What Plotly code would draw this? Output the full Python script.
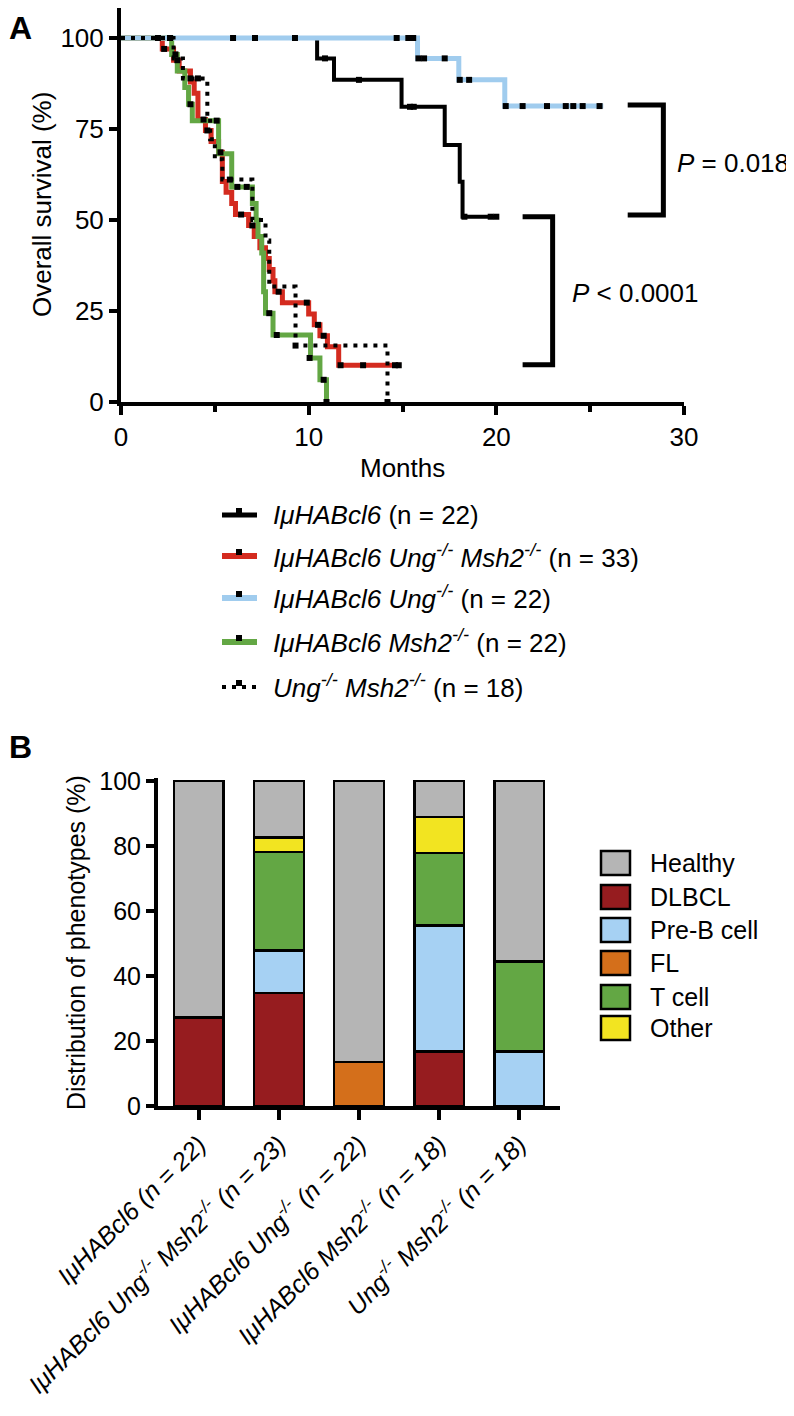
import plotly.graph_objects as go

PAGE_MARGIN = 8  # the browser's default body margin shifts the chart by 8px
W, H = 794 - PAGE_MARGIN, 1416 - PAGE_MARGIN
FONT = "Liberation Sans, Arial, Helvetica, sans-serif"

# ==========================================================
# Panel A data: Kaplan-Meier steps (months, % alive)
# ==========================================================
black_t = [0, 10.45, 11.35, 14.95, 17.25, 18.05, 18.2, 20.1]
black_s = [100, 94.4, 88.5, 81.1, 70.6, 60.5, 50.9, 50.9]
black_cens_t = [1.97, 2.61, 5.97, 7.14, 9.27, 10.87, 12.68, 15.4, 15.6, 18.3, 19.7, 20.0]
black_cens_s = [100, 100, 100, 100, 100, 94.4, 88.5, 81.1, 81.1, 50.9, 50.9, 50.9]

red_t = [0, 2.2, 2.8, 3.1, 3.7, 3.9, 4.1, 4.5, 4.8, 5.2, 5.4, 5.6, 5.9, 6.1,
         6.8, 7.1, 7.4, 7.7, 7.9, 8.1, 8.2, 8.6, 10.0, 10.3, 10.6, 11.0, 11.6, 14.9]
red_s = [100, 97.0, 93.9, 90.9, 87.9, 84.8, 77.6, 74.6, 71.6, 68.6, 60.6, 57.6, 54.5, 51.5,
         48.5, 45.5, 42.4, 39.4, 36.4, 33.3, 30.3, 27.3, 24.2, 21.2, 18.2, 15.2, 10.1, 10.1]
red_cens_t = [2.3, 3.0, 4.4, 4.6, 5.3, 6.4, 7.0, 8.4, 9.9, 10.5, 10.8, 11.7, 12.9, 14.6, 14.8]
red_cens_s = [97.0, 93.9, 77.6, 74.6, 68.6, 51.5, 48.5, 30.3, 27.3, 21.2, 18.2, 10.1, 10.1, 10.1, 10.1]

blue_t = [0, 15.8, 18.0, 20.45, 25.7]
blue_s = [100, 94.4, 88.5, 81.3, 81.3]
blue_cens_t = [14.69, 15.31, 15.57, 15.85, 16.15, 17.25, 18.05, 18.55,
               20.5, 21.4, 22.7, 23.7, 24.1, 24.6, 25.5]
blue_cens_s = [100, 100, 100, 94.4, 94.4, 94.4, 88.5, 88.5,
               81.3, 81.3, 81.3, 81.3, 81.3, 81.3, 81.3]

green_t = [0, 2.7, 3.0, 3.4, 3.6, 3.8, 5.2, 5.9, 7.0, 7.2, 7.3, 7.5, 7.6, 7.7, 8.1, 10.1, 10.6, 10.95]
green_s = [100, 95.5, 90.9, 86.4, 81.8, 77.3, 68.2, 59.1, 54.5, 50.0, 45.5, 40.9, 30.3, 24.4, 18.4, 12.1, 6.1, 0]
green_cens_t = [2.9, 3.7, 5.1, 6.2, 6.7, 7.9, 8.3, 10.05, 10.8, 10.95]
green_cens_s = [95.5, 81.8, 77.3, 59.1, 59.1, 24.4, 18.4, 12.1, 6.1, 0]

dot_t = [0, 2.8, 3.3, 4.6, 4.75, 5.0, 5.4, 7.0, 7.7, 7.9, 9.3, 14.2]
dot_s = [100, 94.4, 88.9, 77.8, 72.2, 66.7, 61.1, 50.0, 44.4, 31.7, 15.5, 0]
dot_cens_t = [3.7, 4.1, 5.8, 9.3, 14.2]
dot_cens_s = [88.9, 88.9, 61.1, 15.5, 0]

legend_a = [
    "<i>IμHABcl6</i> (n = 22)",
    "<i>IμHABcl6 Ung<sup>-/-</sup> Msh2<sup>-/-</sup></i> (n = 33)",
    "<i>IμHABcl6 Ung<sup>-/-</sup></i> (n = 22)",
    "<i>IμHABcl6 Msh2<sup>-/-</sup></i> (n = 22)",
    "<i>Ung<sup>-/-</sup> Msh2<sup>-/-</sup></i> (n = 18)",
]

# ==========================================================
# Panel B data: phenotype distribution (%)
# ==========================================================
groups = [
    "<i>IμHABcl6 (n = 22)</i>",
    "<i>IμHABcl6 Ung<sup>-/-</sup> Msh2<sup>-/-</sup> (n = 23)</i>",
    "<i>IμHABcl6 Ung<sup>-/-</sup> (n = 22)</i>",
    "<i>IμHABcl6 Msh2<sup>-/-</sup> (n = 18)</i>",
    "<i>Ung<sup>-/-</sup> Msh2<sup>-/-</sup> (n = 18)</i>",
]
dlbcl = [27.3, 34.8, 0, 16.7, 0]
preb = [0, 13.0, 0, 38.9, 16.7]
fl = [0, 0, 13.6, 0, 0]
tcell = [0, 30.4, 0, 22.2, 27.8]
other = [0, 4.4, 0, 11.1, 0]
healthy = [72.7, 17.4, 86.4, 11.1, 55.5]

phenotypes = ["Healthy", "DLBCL", "Pre-B cell", "FL", "T cell", "Other"]
pheno_colors = {
    "Healthy": "#b5b5b5",
    "DLBCL": "#961c1f",
    "Pre-B cell": "#a6d1f3",
    "FL": "#d46f1b",
    "T cell": "#63a744",
    "Other": "#f2e421",
}


# screen pixel -> paper coordinate
def px_x(px):
    return (px - PAGE_MARGIN) / W


def px_y(py):
    return 1 - (py - PAGE_MARGIN) / H


fig = go.Figure()

# ==========================================================
# Panel A curves
# ==========================================================
curves = [
    (black_t, black_s, "black", 4, "solid"),
    (red_t, red_s, "#d42b1f", 5, "solid"),
    (green_t, green_s, "#63a744", 5, "solid"),
    (blue_t, blue_s, "#a0ccee", 5, "solid"),
    (dot_t, dot_s, "black", 4, "4px,6px"),
]
for t, s, color, width, dash in curves:
    fig.add_trace(go.Scatter(
        x=t, y=s, mode="lines",
        line=dict(color=color, width=width, dash=dash, shape="hv"),
        xaxis="x", yaxis="y", hoverinfo="skip"
    ))

for t, s in [(black_cens_t, black_cens_s), (red_cens_t, red_cens_s),
             (green_cens_t, green_cens_s), (blue_cens_t, blue_cens_s),
             (dot_cens_t, dot_cens_s)]:
    fig.add_trace(go.Scatter(
        x=t, y=s, mode="markers",
        marker=dict(symbol="square", size=6, color="black"),
        xaxis="x", yaxis="y", hoverinfo="skip"
    ))

# ==========================================================
# Panel B bars (stack bottom -> top)
# ==========================================================
for name, vals in [("DLBCL", dlbcl), ("Pre-B cell", preb), ("FL", fl),
                   ("T cell", tcell), ("Other", other), ("Healthy", healthy)]:
    fig.add_trace(go.Bar(
        x=groups, y=vals, name=name, width=0.62,
        marker=dict(color=pheno_colors[name], line=dict(color="black", width=2.5)),
        xaxis="x2", yaxis="y2", hoverinfo="skip"
    ))

shapes = []
annotations = []

# P value brackets
for x0, x1, y0, y1 in [(27.0, 28.9, 81.6, 51.4), (21.4, 23.0, 50.9, 10.2)]:
    shapes.append(dict(
        type="path", xref="x", yref="y",
        path=f"M {x0},{y0} L {x1},{y0} L {x1},{y1} L {x0},{y1}",
        line=dict(color="black", width=5)
    ))
annotations.append(dict(text="<i>P</i> = 0.018", x=px_x(790), y=px_y(163),
                        xanchor="right", yanchor="middle", borderpad=0))
annotations.append(dict(text="<i>P</i> &lt; 0.0001", x=px_x(570), y=px_y(293),
                        xanchor="left", yanchor="middle"))

# Legend for panel A
legend_rows = [515, 556, 598, 642, 687]
legend_styles = [("black", 5, "solid"), ("#d42b1f", 6, "solid"), ("#a0ccee", 6, "solid"),
                 ("#63a744", 6, "solid"), ("black", 4, "4px,6px")]
for row, label, (color, width, dash) in zip(legend_rows, legend_a, legend_styles):
    shapes.append(dict(type="line", xref="paper", yref="paper",
                       x0=px_x(222), x1=px_x(257), y0=px_y(row), y1=px_y(row),
                       line=dict(color=color, width=width, dash=dash)))
    shapes.append(dict(type="rect", xref="paper", yref="paper",
                       x0=px_x(236), x1=px_x(242), y0=px_y(row - 7), y1=px_y(row - 1),
                       fillcolor="black", line=dict(width=0)))
    annotations.append(dict(text=label, x=px_x(271), y=px_y(row),
                            xanchor="left", yanchor="middle"))

# Legend for panel B
b_rows = [863, 897, 930, 963, 997, 1028]
for row, name in zip(b_rows, phenotypes):
    shapes.append(dict(type="rect", xref="paper", yref="paper",
                       x0=px_x(601), x1=px_x(630), y0=px_y(row + 12), y1=px_y(row - 12),
                       fillcolor=pheno_colors[name], line=dict(color="black", width=2.5)))
    annotations.append(dict(text=name, x=px_x(648), y=px_y(row),
                            xanchor="left", yanchor="middle", font=dict(size=25)))

# Axis titles and panel letters
annotations += [
    dict(text="Months", x=px_x(402), y=px_y(468), xanchor="center", yanchor="middle"),
    dict(text="Overall survival (%)", x=px_x(42), y=px_y(205), textangle=-90,
         xanchor="center", yanchor="middle"),
    dict(text="Distribution of phenotypes (%)", x=px_x(76), y=px_y(943), textangle=-90,
         xanchor="center", yanchor="middle", font=dict(size=25)),
    dict(text="<b>A</b>", x=px_x(20), y=px_y(28), xanchor="center", yanchor="middle",
         font=dict(size=32)),
    dict(text="<b>B</b>", x=px_x(20), y=px_y(747), xanchor="center", yanchor="middle",
         font=dict(size=32)),
]
for a in annotations:
    a.setdefault("xref", "paper")
    a.setdefault("yref", "paper")
    a["showarrow"] = False

axis_style = dict(
    showline=True, linewidth=4, linecolor="black",
    ticks="outside", tickwidth=4, tickcolor="black",
    showgrid=False, zeroline=False,
)

# panel A: 0% sits at screen y=402, 100% at y=38; axis line runs to the top
a_top = (402 - PAGE_MARGIN) / ((402 - 38) / 100)

fig.update_layout(
    width=W, height=H,
    margin=dict(l=0, r=0, t=0, b=0, autoexpand=False),
    paper_bgcolor="white", plot_bgcolor="white",
    font=dict(family=FONT, size=26, color="black"),
    showlegend=False,
    barmode="stack",
    shapes=shapes,
    annotations=annotations,
    xaxis=dict(
        domain=[px_x(121), px_x(684)], range=[0, 30], anchor="y",
        tickvals=[0, 10, 20, 30], ticklen=9,
        minor=dict(tickvals=[5, 15, 25], ticks="outside", ticklen=6, tickwidth=4,
                   tickcolor="black"),
        tickfont=dict(size=26), **axis_style
    ),
    yaxis=dict(
        domain=[px_y(402), 1.0], range=[0, a_top], anchor="x",
        tickvals=[0, 25, 50, 75, 100], ticklen=8,
        tickfont=dict(size=26), **axis_style
    ),
    xaxis2=dict(
        domain=[px_x(158), px_x(560)], range=[-0.51, 4.51], anchor="y2",
        type="category", tickangle=-45, ticklen=10,
        tickfont=dict(size=25), **axis_style
    ),
    yaxis2=dict(
        domain=[px_y(1106), px_y(778.4)], range=[0, 100.8], anchor="x2",
        tickvals=[0, 20, 40, 60, 80, 100], ticklen=8,
        tickfont=dict(size=25), **axis_style
    ),
)

fig.write_html("out.html")
